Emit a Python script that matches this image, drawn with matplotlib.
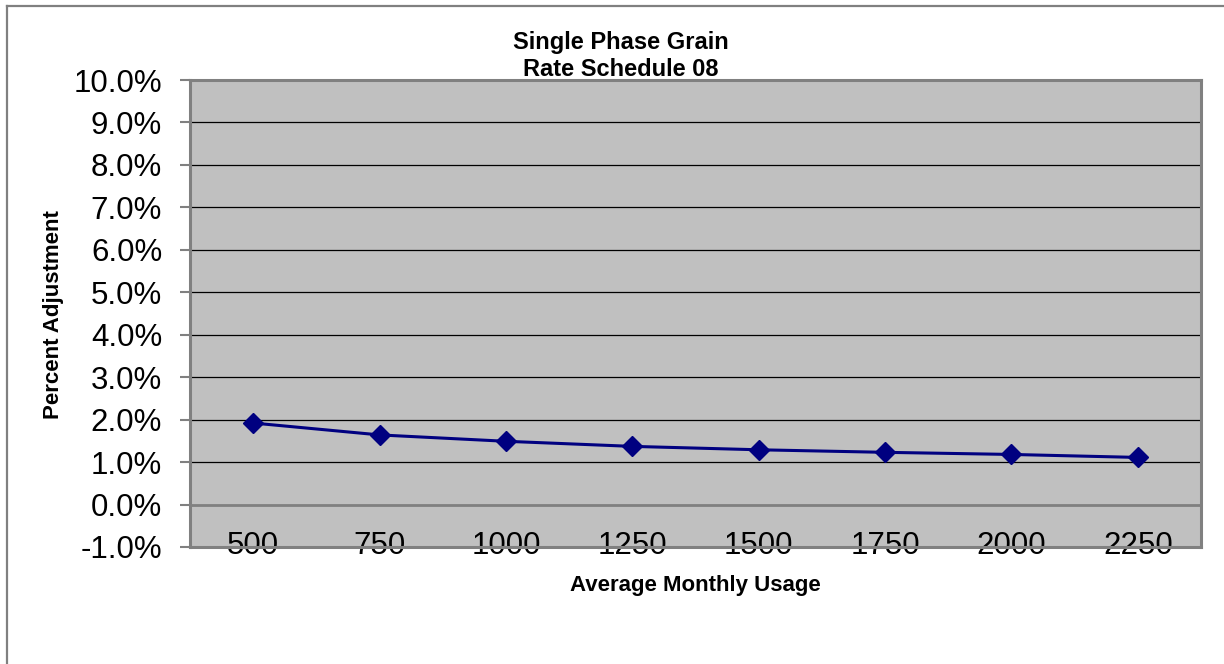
import matplotlib
matplotlib.use("Agg")
import matplotlib.pyplot as plt
from matplotlib.lines import Line2D
from matplotlib.ticker import FuncFormatter, MultipleLocator

plt.rcParams['font.family'] = ['Liberation Sans', 'DejaVu Sans']

# data
usage = ['500', '750', '1000', '1250', '1500', '1750', '2000', '2250']
adjustment = [1.92, 1.64, 1.49, 1.37, 1.29, 1.23, 1.18, 1.11]

W, H = 1224, 664
fig = plt.figure(figsize=(W / 100, H / 100), dpi=100)
fig.patch.set_facecolor('white')

# chart area border (left and top edges only visible)
fig.add_artist(Line2D([7 / W, 7 / W], [0, 1 - 6 / H], color='#808080', lw=1.6,
                      transform=fig.transFigure))
fig.add_artist(Line2D([7 / W, 1], [1 - 6 / H, 1 - 6 / H], color='#808080', lw=1.6,
                      transform=fig.transFigure))

ax = fig.add_axes([190 / W, 1 - 547 / H, (1201 - 190) / W, (547 - 80) / H])
ax.set_facecolor('#c0c0c0')

x = list(range(len(usage)))
ax.plot(x, adjustment, color='#000080', lw=2.2, marker='D', markersize=10.5,
        zorder=3)

ax.set_xlim(-0.5, len(usage) - 0.5)
ax.set_ylim(-1, 10)
ax.yaxis.set_major_locator(MultipleLocator(1))
ax.yaxis.set_major_formatter(FuncFormatter(lambda v, p: f'{v:.1f}%'))
ax.set_xticks(x)
ax.set_xticklabels(usage)

# gridlines: black, 0% line drawn as grey axis line
for v in range(1, 10):
    ax.axhline(v, color='black', lw=0.9, zorder=1)
ax.axhline(0, color='#808080', lw=2, zorder=2)

for s in ax.spines.values():
    s.set_color('#808080')
    s.set_linewidth(2.2)
# category labels sit on top of the bottom edge
ax.spines['bottom'].set_zorder(2)

ax.tick_params(axis='y', labelsize=22.5, length=7, width=1.5, color='#808080',
               direction='out', pad=13)
ax.tick_params(axis='x', labelsize=22.5, length=0, pad=-11.5)

fig.text(621 / W, 1 - 43 / H, 'Single Phase Grain', ha='center', va='center',
         fontsize=17, fontweight='bold')
fig.text(621 / W, 1 - 69 / H, 'Rate Schedule 08', ha='center', va='center',
         fontsize=17, fontweight='bold')
fig.text(695 / W, 1 - 585 / H, 'Average Monthly Usage', ha='center', va='center',
         fontsize=16, fontweight='bold')
fig.text(54 / W, 1 - 315 / H, 'Percent Adjustment', ha='center', va='center',
         rotation=90, fontsize=16, fontweight='bold')

plt.savefig('out.png', dpi=100)
